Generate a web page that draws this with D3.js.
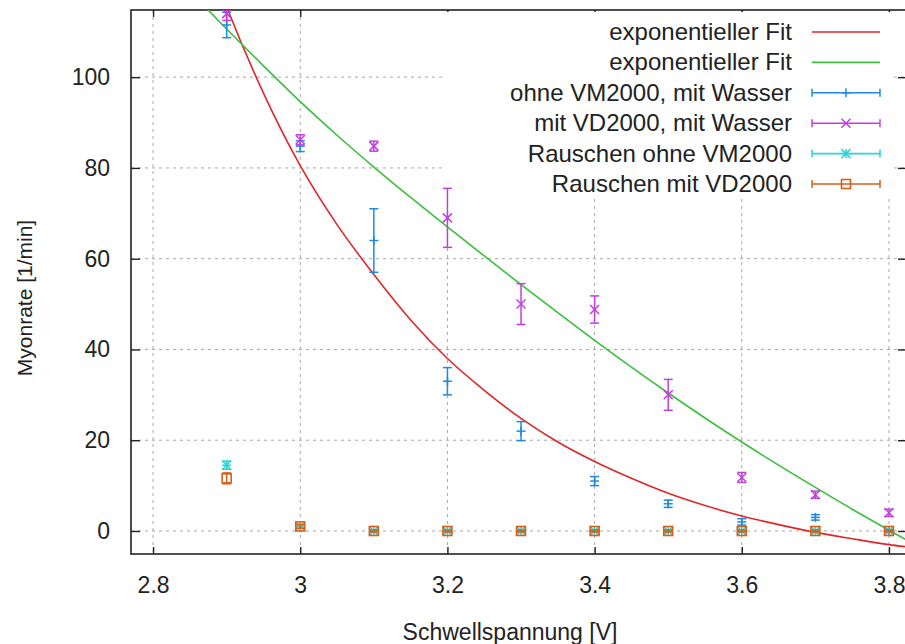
<!DOCTYPE html>
<html>
<head>
<meta charset="utf-8">
<script src="https://cdn.jsdelivr.net/npm/d3@7"></script>
<style>
  body { margin: 0; background: #fff; }
  text { font-family: "Liberation Sans", Arial, sans-serif; fill: #222; }
</style>
</head>
<body>
<script>
// Myonrate vs. Schwellspannung (gnuplot style)

// Measured points
var voltages = [2.9, 3.0, 3.1, 3.2, 3.3, 3.4, 3.5, 3.6, 3.7, 3.8];

var ohneWasser = [111.5, 84.8, 64, 33, 22, 11, 6, 2, 3, 0];
var ohneWasserErr = [2.8, 1.2, 7, 3, 2.1, 1, 0.8, 0.7, 0.6, 0.3];

var mitWasser = [114, 86.2, 84.8, 69, 50, 48.8, 30, 11.8, 8, 4];
var mitWasserErr = [1.5, 1.1, 1.1, 6.5, 4.5, 3, 3.4, 1.1, 0.8, 0.8];

var rauschenOhne = [14.5, 1, 0, 0, 0, 0, 0, 0, 0, 0];
var rauschenOhneErr = [0.9, 0.4, 0.2, 0.2, 0.2, 0.2, 0.2, 0.2, 0.2, 0.2];

var rauschenMit = [11.6, 1, 0, 0, 0, 0, 0, 0, 0, 0];
var rauschenMitErr = [1.2, 0.4, 0.2, 0.2, 0.2, 0.2, 0.2, 0.2, 0.2, 0.2];

// Fit curves
var fitRedX = [2.85, 2.90, 2.95, 3.00, 3.05, 3.10, 3.15, 3.20, 3.25, 3.30, 3.35, 3.40,
               3.45, 3.50, 3.55, 3.60, 3.65, 3.70, 3.75, 3.80, 3.825];
var fitRedY = [138, 115.5, 96.5, 80.5, 67.5, 56.5, 46.5, 38, 31, 24.8, 19.6, 15.3,
               11.6, 8.3, 5.6, 3.3, 1.4, -0.3, -1.7, -3.0, -3.5];

var fitGreenX = [2.85, 2.90, 2.95, 3.00, 3.05, 3.10, 3.15, 3.20, 3.25, 3.30, 3.35, 3.40,
                 3.45, 3.50, 3.55, 3.60, 3.65, 3.70, 3.75, 3.80, 3.825];
var fitGreenY = [119, 110.6, 102.5, 94.6, 87.2, 80.2, 73.5, 67.0, 60.6, 54.3, 48.1, 42.0,
                 36.1, 30.4, 24.9, 19.6, 14.5, 9.6, 4.8, 0.2, -2.1];

var xTicks = [2.8, 3, 3.2, 3.4, 3.6, 3.8];
var yTicks = [0, 20, 40, 60, 80, 100];

var legendLabels = ["exponentieller Fit", "exponentieller Fit", "ohne VM2000, mit Wasser",
                    "mit VD2000, mit Wasser", "Rauschen ohne VM2000", "Rauschen mit VD2000"];

var colors = {
  red: "#e0262a",
  green: "#3cbf3c",
  blue: "#1f8ae0",
  purple: "#c23ee0",
  cyan: "#2ad4d4",
  orange: "#d2601e"
};

// Plot box
var svgWidth = 905;
var svgHeight = 644;
var plot = { left: 131, right: 907, top: 10, bottom: 554 };

var svg = d3.select("body")
  .append("svg")
  .attr("width", svgWidth)
  .attr("height", svgHeight);

var x = d3.scaleLinear()
  .domain([2.77, 3.8245])
  .range([plot.left, plot.right]);

var y = d3.scaleLinear()
  .domain([-5.07, 114.8])
  .range([plot.bottom, plot.top]);

svg.append("clipPath")
  .attr("id", "clip")
  .append("rect")
  .attr("x", plot.left)
  .attr("y", plot.top)
  .attr("width", plot.right - plot.left)
  .attr("height", plot.bottom - plot.top);

// Grid
var grid = svg.append("g")
  .attr("stroke", "#a8a8a8")
  .attr("stroke-width", 1)
  .attr("stroke-dasharray", "3,4");

grid.selectAll(".gx")
  .data(xTicks)
  .enter().append("line")
  .attr("x1", d => x(d)).attr("x2", d => x(d))
  .attr("y1", plot.top).attr("y2", plot.bottom);

grid.selectAll(".gy")
  .data(yTicks)
  .enter().append("line")
  .attr("x1", plot.left).attr("x2", plot.right)
  .attr("y1", d => y(d)).attr("y2", d => y(d));

// Axes with inward ticks (gnuplot look)
var bottomAxis = d3.axisBottom(x).tickValues(xTicks).tickSize(-7).tickPadding(23).tickFormat(d => String(d));
var topAxis = d3.axisTop(x).tickValues(xTicks).tickSize(-7).tickFormat("");
var leftAxis = d3.axisLeft(y).tickValues(yTicks).tickSize(-9).tickPadding(21).tickFormat(d => String(d));
var rightAxis = d3.axisRight(y).tickValues(yTicks).tickSize(-9).tickFormat("");

function styleAxis(g) {
  g.select(".domain").remove();
  g.selectAll(".tick line").attr("stroke", "#222").attr("stroke-width", 1.4);
  g.selectAll(".tick text")
    .style("font-family", "'Liberation Sans', Arial, sans-serif")
    .style("font-size", "23px")
    .attr("fill", "#222");
}

svg.append("g").attr("transform", "translate(0," + plot.bottom + ")").call(bottomAxis).call(styleAxis);
svg.append("g").attr("transform", "translate(0," + plot.top + ")").call(topAxis).call(styleAxis);
svg.append("g").attr("transform", "translate(" + plot.left + ",0)").call(leftAxis).call(styleAxis);
svg.append("g").attr("transform", "translate(" + plot.right + ",0)").call(rightAxis).call(styleAxis);

// Legend background (opaque key)
svg.append("rect")
  .attr("x", 446)
  .attr("y", 12)
  .attr("width", 448)
  .attr("height", 186)
  .attr("fill", "#fff");

// Border
svg.append("rect")
  .attr("x", plot.left)
  .attr("y", plot.top)
  .attr("width", plot.right - plot.left)
  .attr("height", plot.bottom - plot.top)
  .attr("fill", "none")
  .attr("stroke", "#222")
  .attr("stroke-width", 1.6);

var chart = svg.append("g").attr("clip-path", "url(#clip)");

// Fit lines
var line = d3.line()
  .x(d => x(d[0]))
  .y(d => y(d[1]))
  .curve(d3.curveMonotoneX);

chart.append("path")
  .attr("d", line(d3.zip(fitRedX, fitRedY)))
  .attr("fill", "none")
  .attr("stroke", colors.red)
  .attr("stroke-width", 1.6);

chart.append("path")
  .attr("d", line(d3.zip(fitGreenX, fitGreenY)))
  .attr("fill", "none")
  .attr("stroke", colors.green)
  .attr("stroke-width", 1.6);

// Marker shapes
function drawMarker(g, type, cx, cy, color) {
  var s = 4.5;
  if (type == "plus" || type == "star") {
    g.append("line").attr("x1", cx - s).attr("x2", cx + s).attr("y1", cy).attr("y2", cy).attr("stroke", color).attr("stroke-width", 1.5);
    g.append("line").attr("x1", cx).attr("x2", cx).attr("y1", cy - s).attr("y2", cy + s).attr("stroke", color).attr("stroke-width", 1.5);
  }
  if (type == "cross" || type == "star") {
    g.append("line").attr("x1", cx - s).attr("x2", cx + s).attr("y1", cy - s).attr("y2", cy + s).attr("stroke", color).attr("stroke-width", 1.5);
    g.append("line").attr("x1", cx - s).attr("x2", cx + s).attr("y1", cy + s).attr("y2", cy - s).attr("stroke", color).attr("stroke-width", 1.5);
  }
  if (type == "square") {
    g.append("rect").attr("x", cx - 4.5).attr("y", cy - 4.5).attr("width", 9).attr("height", 9)
      .attr("fill", "none").attr("stroke", color).attr("stroke-width", 1.6);
  }
}

function drawSeries(values, errs, color, type) {
  var g = chart.append("g");
  voltages.forEach(function (v, i) {
    var cx = x(v);
    var lo = y(values[i] - errs[i]);
    var hi = y(values[i] + errs[i]);
    g.append("line").attr("x1", cx).attr("x2", cx).attr("y1", lo).attr("y2", hi)
      .attr("stroke", color).attr("stroke-width", 1.5);
    g.append("line").attr("x1", cx - 4.5).attr("x2", cx + 4.5).attr("y1", lo).attr("y2", lo)
      .attr("stroke", color).attr("stroke-width", 1.5);
    g.append("line").attr("x1", cx - 4.5).attr("x2", cx + 4.5).attr("y1", hi).attr("y2", hi)
      .attr("stroke", color).attr("stroke-width", 1.5);
    drawMarker(g, type, cx, y(values[i]), color);
  });
}

drawSeries(ohneWasser, ohneWasserErr, colors.blue, "plus");
drawSeries(mitWasser, mitWasserErr, colors.purple, "cross");
drawSeries(rauschenOhne, rauschenOhneErr, colors.cyan, "star");
drawSeries(rauschenMit, rauschenMitErr, colors.orange, "square");

// Legend
var legendColors = [colors.red, colors.green, colors.blue, colors.purple, colors.cyan, colors.orange];
var legendTypes = [null, null, "plus", "cross", "star", "square"];
var legend = svg.append("g");

legendLabels.forEach(function (label, i) {
  var ly = 32 + i * 30.4;
  legend.append("text")
    .attr("x", 792)
    .attr("y", ly + 8)
    .attr("text-anchor", "end")
    .style("font-size", "24px")
    .text(label);
  legend.append("line")
    .attr("x1", 812).attr("x2", 880).attr("y1", ly).attr("y2", ly)
    .attr("stroke", legendColors[i]).attr("stroke-width", 1.6);
  if (legendTypes[i]) {
    legend.append("line").attr("x1", 812).attr("x2", 812).attr("y1", ly - 4).attr("y2", ly + 4)
      .attr("stroke", legendColors[i]).attr("stroke-width", 1.5);
    legend.append("line").attr("x1", 880).attr("x2", 880).attr("y1", ly - 4).attr("y2", ly + 4)
      .attr("stroke", legendColors[i]).attr("stroke-width", 1.5);
    drawMarker(legend, legendTypes[i], 846, ly, legendColors[i]);
  }
});

// Axis titles
svg.append("text")
  .attr("transform", "translate(32,298) rotate(-90)")
  .attr("text-anchor", "middle")
  .style("font-size", "21px")
  .text("Myonrate [1/min]");

svg.append("text")
  .attr("x", 510)
  .attr("y", 640)
  .attr("text-anchor", "middle")
  .style("font-size", "23px")
  .text("Schwellspannung [V]");
</script>
</body>
</html>
